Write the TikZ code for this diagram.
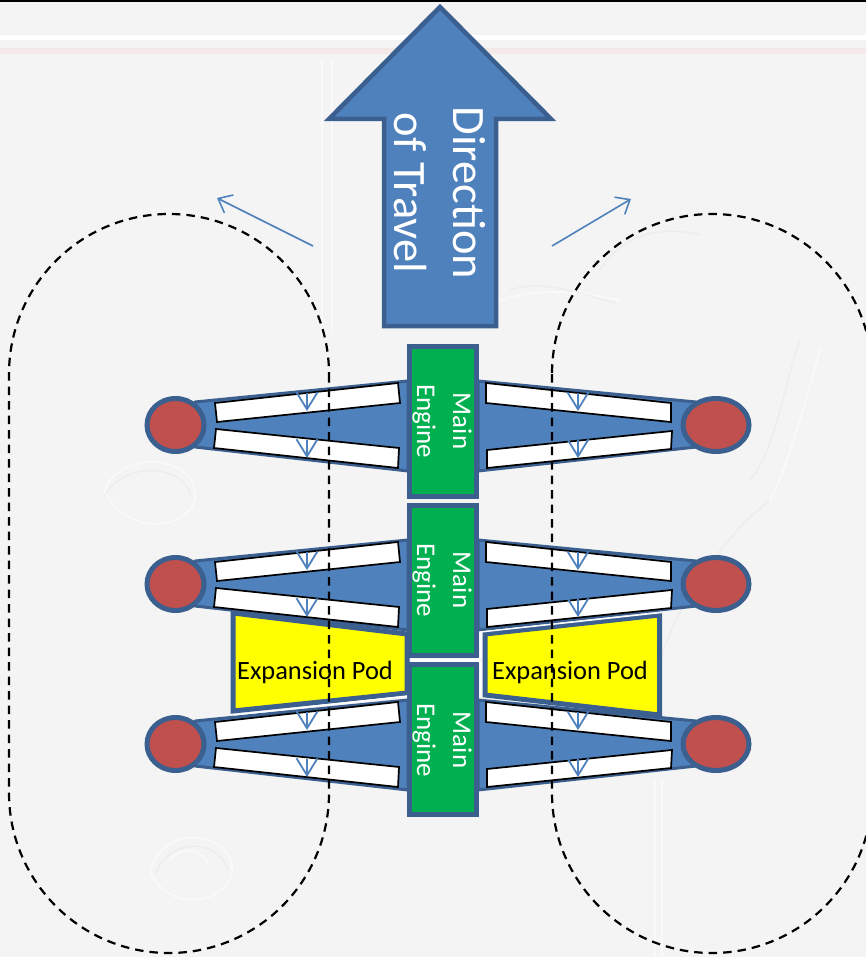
\documentclass[tikz,border=0pt]{standalone}
\usepackage{fontspec}
\setmainfont{Carlito}
\usetikzlibrary{arrows.meta,shapes.geometric}
\definecolor{bgc}{HTML}{F4F4F4}
\definecolor{bluef}{HTML}{4F81BD}
\definecolor{blues}{HTML}{3B5F8F}
\definecolor{greenf}{HTML}{00B050}
\definecolor{redf}{HTML}{C0504D}
\definecolor{podyellow}{RGB}{255,255,0}
\tikzset{
  x=1pt,y=-1pt,
  shapeline/.style={draw=blues,line width=4.5pt,line join=miter},
  wing/.style={fill=bluef,draw=blues,line width=3pt,line join=round},
  enginebox/.style={draw=blues,line width=5pt,fill=greenf,rectangle,minimum width=67pt,minimum height=150pt,inner sep=0pt,outer sep=0pt,anchor=north west},
  wheel/.style={draw=blues,line width=5pt,fill=redf,ellipse,inner sep=0pt,outer sep=0pt},
  pod/.style={draw=blues,line width=5pt,line join=miter,fill=podyellow},
  strip/.style={fill=white,draw=black,line width=1.7pt,line join=miter},
  smallarrow/.style={draw=bluef,line width=1.8pt,-{Straight Barb[length=17pt,width=21pt,line width=1.8pt]}},
  motion/.style={draw=bluef,line width=1.6pt,-{Straight Barb[length=12pt,width=20pt,line width=1.6pt]}},
  track/.style={draw=black,line width=2.2pt,dash pattern=on 8.5pt off 6pt},
  whiteedge/.style={draw=white,line width=1.3pt},
  faint/.style={draw=white,line width=2pt,opacity=.5,line cap=round},
  faintd/.style={draw=black!10,line width=1.2pt,opacity=.5,line cap=round},
  engtext/.style={text=white,font=\fontsize{27}{36}\selectfont,rotate=-90,align=center,inner sep=0pt},
  podtext/.style={text=black,font=\fontsize{26.4}{30}\selectfont,inner sep=0pt},
  arrowtext/.style={text=white,font=\fontsize{46.5}{59}\selectfont,rotate=-90,align=center,inner sep=0pt},
}
\begin{document}
\begin{tikzpicture}
\useasboundingbox (0,0) rectangle (866,957);
\fill[bgc] (0,0) rectangle (866,957);
% faint embossed background
\fill[white] (0,35) rectangle (866,40);
\fill[red!12!bgc,opacity=.35] (0,48) rectangle (866,54);
\draw[faint] (322,60) -- (322,330) (332,60) -- (332,330);
\draw[faint] (655,780) -- (655,957) (662,780) -- (662,957);
\draw[faint] (105,490) .. controls (120,450) and (190,455) .. (195,490) .. controls (200,530) and (125,540) .. (105,490);
\draw[faint] (150,870) .. controls (165,825) and (225,830) .. (232,865) .. controls (235,905) and (165,915) .. (150,870);
\draw[faint] (170,860) .. controls (180,845) and (205,850) .. (208,865);
\draw[faintd] (800,340) .. controls (780,400) and (775,450) .. (750,480);
\draw[faint] (820,350) .. controls (800,420) and (790,460) .. (770,500);
\draw[faint] (500,300) .. controls (550,285) and (590,295) .. (620,300);
\draw[faintd] (770,500) .. controls (720,540) and (680,600) .. (660,660);
\draw[faintd] (600,270) .. controls (620,235) and (660,225) .. (700,235);
\draw[faintd] (510,290) .. controls (540,280) and (570,290) .. (615,303);
\draw[faintd] (105,495) .. controls (125,460) and (185,465) .. (190,495);
\draw[faintd] (155,875) .. controls (170,835) and (220,840) .. (228,870);
\fill[black] (0,0) rectangle (866,2);

% wings and wheels
\foreach \r/\dy in {a/0,b/159,c/319}{
  \begin{scope}[shift={(0,\dy)}]
    \draw[wing] (195,402) -- (408,381) -- (408,471) -- (195,447) -- cycle;
    \draw[wing] (696,402) -- (478,381) -- (478,471) -- (696,447) -- cycle;
    \node[wheel,minimum width=57pt,minimum height=53pt] (wl\r) at (175.5,425) {};
    \node[wheel,minimum width=66pt,minimum height=53pt] (wr\r) at (716,425) {};
  \end{scope}
}
% expansion pods
\draw[pod] (233,613) -- (407,634) -- (407,693) -- (233,711) -- cycle;
\draw[pod] (659.5,615) -- (485,634) -- (485,695) -- (659.5,715) -- cycle;
% strips
\foreach \dy in {0,159,319}{
  \begin{scope}[shift={(0,\dy)}]
    \draw[strip] (215,403) -- (398,383) -- (400,403) -- (217,422) -- cycle;
    \draw[strip] (216,429) -- (399,448) -- (398,468) -- (214,448) -- cycle;
    \draw[strip] (671,403) -- (486,383) -- (486,403) -- (671,422) -- cycle;
    \draw[strip] (487,450) -- (672,431) -- (671,449) -- (487,468) -- cycle;
    \draw[smallarrow] (307,393) -- (307,411);
    \draw[smallarrow] (307,440) -- (307,458);
    \draw[smallarrow] (578,393) -- (578,411);
    \draw[smallarrow] (578,440) -- (578,458);
  \end{scope}
}
% engines
\node[enginebox] (e1) at (409.5,346.5) {};
\node[enginebox] (e2) at (409.5,505.5) {};
\node[enginebox] (e3) at (409.5,664.5) {};
% white edges
\draw[whiteedge,line width=3pt] (411,660) -- (478,660);
\draw[whiteedge] (478,660) -- (481,656) -- (481,632) -- (662,612.5);
\draw[whiteedge] (478,660) -- (481,664) -- (481,697);
\draw[whiteedge] (407,696) -- (234,715);
% big arrow
\draw[shapeline,fill=bluef] (440,7) -- (551,119) -- (496,119) -- (496,326) -- (384,326) -- (384,119) -- (329,119) -- cycle;
% motion arrows
\coordinate (mla) at (313,246);
\coordinate (mlb) at (217,198);
\coordinate (mra) at (552,246);
\coordinate (mrb) at (631,199);
\draw[motion] (mla) -- (mlb);
\draw[motion] (mra) -- (mrb);
% tracks
\draw[track] (329,374) -- (329,793) arc[start angle=0,end angle=180,radius=160] -- (9,374) arc[start angle=180,end angle=360,radius=160];
\draw[track] (552,374) -- (552,793) arc[start angle=180,end angle=0,radius=160] (872,374) arc[start angle=360,end angle=180,radius=160];
% labels
\node[arrowtext] (dir) at (440,193) {Direction\\of Travel};
\node[engtext] at (442,421) {Main\\Engine};
\node[engtext] at (442,580) {Main\\Engine};
\node[engtext] at (442,740) {Main\\Engine};
\node[podtext] (p1) at (315,672) {Expansion Pod};
\node[podtext] (p2) at (570,672) {Expansion Pod};
\end{tikzpicture}
\end{document}
